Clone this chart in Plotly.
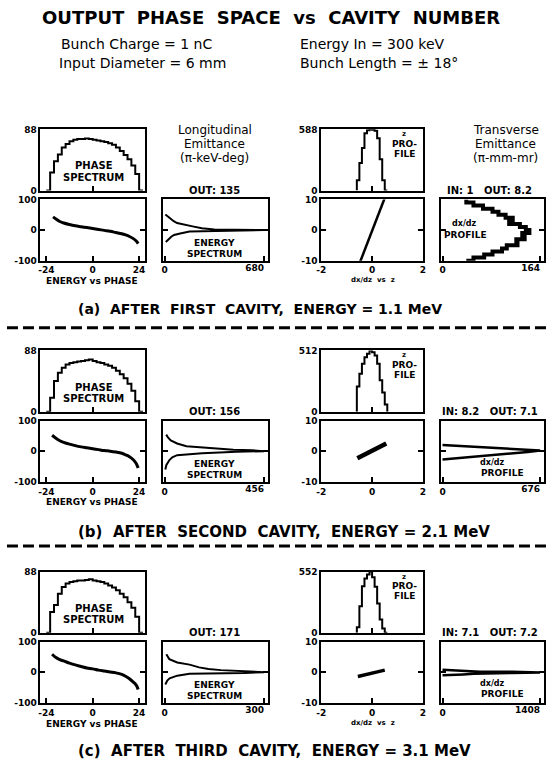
import plotly.graph_objects as go

W, H = 549, 774
FONT = "DejaVu Sans"

# ---------------- text ----------------
title_text = "OUTPUT  PHASE  SPACE  vs  CAVITY  NUMBER"
params_left = ["Bunch Charge = 1 nC", "Input Diameter = 6 mm"]
params_right = ["Energy In = 300 keV", "Bunch Length = ± 18°"]
section_labels = ["(a)  AFTER  FIRST  CAVITY,  ENERGY = 1.1 MeV",
                  "(b)  AFTER  SECOND  CAVITY,  ENERGY = 2.1 MeV",
                  "(c)  AFTER  THIRD  CAVITY,  ENERGY = 3.1 MeV"]
long_header = ["Longitudinal", "Emittance", "(π-keV-deg)"]
trans_header = ["Transverse", "Emittance", "(π-mm-mr)"]
long_out = ["135", "156", "171"]
trans_in = ["1", "8.2", "7.1"]
trans_out = ["8.2", "7.1", "7.2"]

# ---------------- phase spectrum (counts per 2 deg bin) ----------------
phase_edges = [-24, -22, -20, -18, -16, -14, -12, -10, -8, -6, -4, -2, 0,
               2, 4, 6, 8, 10, 12, 14, 16, 18, 20, 22, 24, 26]
phase_spec_a = [0, 26, 42, 52, 62, 67, 71, 73, 74, 74, 75, 74, 73, 72, 71, 70, 68, 66, 62, 57, 51, 45, 36, 24, 0]
phase_spec_b = [0, 20, 44, 56, 63, 68, 70, 71, 72, 73, 74, 75, 73, 71, 70, 68, 66, 63, 59, 54, 48, 40, 30, 15, 0]
phase_spec_c = [0, 30, 40, 56, 66, 71, 73, 74, 75, 75, 76, 77, 75, 74, 73, 71, 68, 65, 61, 56, 51, 44, 36, 23, 0]
phase_spec_max = [88, 88, 88]

# ---------------- energy vs phase ----------------
ep_phase_a = [-20.5, -19, -17, -15, -12, -9, -6, -3, 0, 3, 6, 9, 12, 15, 17, 19, 21, 22.5, 23.5]
ep_energy_a = [43, 36, 28, 23, 18, 14, 11, 8, 5, 2, -1, -4, -8, -12, -16, -21, -28, -36, -44]
ep_phase_b = [-21, -19, -17, -15, -12, -9, -6, -3, 0, 3, 6, 9, 12, 15, 17, 19, 21, 22.5, 23.5]
ep_energy_b = [52, 42, 34, 29, 23, 18, 14, 11, 8, 5, 2, 0, -3, -7, -12, -18, -28, -40, -55]
ep_phase_c = [-21, -19, -17, -15, -12, -9, -6, -3, 0, 3, 6, 9, 12, 15, 17, 19, 21, 22.5, 23.5]
ep_energy_c = [59, 48, 41, 37, 30, 24, 19, 14, 11, 7, 4, 1, -2, -7, -13, -21, -32, -42, -56]

# ---------------- energy spectrum (energy keV, counts) ----------------
es_energy_a = [51, 43, 35, 29, 23, 18, 12, 6, 2, 0, -2, -5, -11, -16, -22, -28, -39]
es_count_a = [5, 25, 42, 62, 85, 127, 191, 254, 339, 680, 350, 170, 106, 64, 45, 32, 8]
es_energy_b = [54, 45, 35, 25, 16, 12, 9, 5, 3, 0, -2, -4, -7, -13, -20, -29, -45, -60]
es_count_b = [7, 15, 28, 57, 100, 172, 243, 315, 400, 456, 330, 250, 172, 57, 35, 22, 8, 3]
es_energy_c = [59, 50, 43, 32, 25, 16, 11, 7, 3, 0, -2, -3, -5, -11, -20, -27, -40]
es_count_c = [5, 9, 14, 38, 75, 104, 132, 170, 240, 300, 240, 170, 75, 38, 15, 8, 2]
es_max = [680, 456, 300]

# ---------------- z profile ----------------
z_edges = [-0.6, -0.5, -0.4, -0.3, -0.2, -0.1, 0.0, 0.1, 0.2, 0.3, 0.4, 0.5, 0.6]
zprof_a = [100, 266, 408, 551, 580, 588, 585, 575, 503, 300, 100, 0]
zprof_b = [210, 318, 401, 456, 485, 512, 498, 470, 401, 263, 160, 60]
zprof_c = [50, 240, 420, 490, 525, 552, 500, 415, 265, 120, 38, 0]
zprof_max = [588, 512, 552]

# ---------------- dx/dz vs z ----------------
xz_z_a = [-0.48, -0.36, -0.22, -0.08, 0.06, 0.2, 0.34, 0.5]
xz_dxdz_a = [-10.6, -8.0, -5.0, -2.0, 1.0, 4.0, 7.0, 10.5]
xz_z_b = [-0.58, -0.4, -0.2, 0.0, 0.2, 0.4, 0.56]
xz_dxdz_b = [-2.3, -1.5, -0.7, 0.1, 0.9, 1.7, 2.5]
xz_z_c = [-0.56, -0.3, 0.0, 0.25, 0.5]
xz_dxdz_c = [-1.4, -0.8, -0.3, 0.2, 0.7]

# ---------------- dx/dz profile (dx/dz mr, counts) ----------------
dp_dxdz_a = [10, 9, 8, 7, 6, 5, 4, 3, 2, 1, 0, -1, -2, -3, -4, -5, -6, -7, -8, -9, -10]
dp_count_a = [40, 52, 68, 84, 94, 106, 118, 112, 130, 140, 146, 134, 138, 124, 126, 108, 100, 84, 70, 52, 40]
dp_dxdz_b = [2.0, 1.8, 1.5, 1.2, 0.9, 0.6, 0.2, -0.3, -0.8, -1.3, -1.8, -2.3, -2.7]
dp_count_b = [0, 80, 200, 330, 460, 580, 676, 590, 470, 340, 210, 90, 0]
dp_dxdz_c = [0.8, 0.6, 0.45, 0.3, 0.2, 0.15, 0.05, -0.1, -0.2, -0.3, -0.5, -0.7, -0.85, -1.0]
dp_count_c = [0, 150, 300, 450, 540, 1000, 1408, 1408, 1000, 540, 450, 300, 150, 0]
dp_max = [164, 676, 1408]

sections = [
    dict(ps=phase_spec_a, epx=ep_phase_a, epy=ep_energy_a, esy=es_energy_a, esx=es_count_a,
         zp=zprof_a, xzx=xz_z_a, xzy=xz_dxdz_a, dpy=dp_dxdz_a, dpx=dp_count_a),
    dict(ps=phase_spec_b, epx=ep_phase_b, epy=ep_energy_b, esy=es_energy_b, esx=es_count_b,
         zp=zprof_b, xzx=xz_z_b, xzy=xz_dxdz_b, dpy=dp_dxdz_b, dpx=dp_count_b),
    dict(ps=phase_spec_c, epx=ep_phase_c, epy=ep_energy_c, esy=es_energy_c, esx=es_count_c,
         zp=zprof_c, xzx=xz_z_c, xzy=xz_dxdz_c, dpy=dp_dxdz_c, dpx=dp_count_c),
]

# ---------------- helpers ----------------
def px(x):
    return x / W


def py(y):
    return 1 - y / H


def step_xy(edges, vals):
    xs = [edges[0]] + list(edges[:-1]) + [edges[-1]]
    ys = [0] + list(vals) + [0]
    return xs, ys


fig = go.Figure()
layout_axes = {}
counter = [0]

TICKFONT = dict(family=FONT, size=9, color="black", weight="bold")
BASE = dict(showline=True, linecolor="black", linewidth=2, showgrid=False,
            zeroline=False, ticks="inside", ticklen=5, tickwidth=2,
            tickcolor="black", tickfont=TICKFONT, fixedrange=True)


def add_axes(x0, x1, y0, y1, xcfg, ycfg, xmirror=True):
    counter[0] += 1
    k = counter[0]
    s = "" if k == 1 else str(k)
    xa = dict(BASE, domain=[px(x0), px(x1)], anchor="y" + s, mirror=xmirror, tickmode="array")
    xa.update(xcfg)
    ya = dict(BASE, domain=[py(y1), py(y0)], anchor="x" + s, mirror="ticks", tickmode="array")
    ya.update(ycfg)
    layout_axes["xaxis" + s] = xa
    layout_axes["yaxis" + s] = ya
    return "x" + s, "y" + s


overlay_axes = []


def add_max_label(xa, ya, rng, vmax):
    # a second x axis over the count axis that carries only the maximum label,
    # right-aligned at its tick like in the original figure
    overlay_axes.append((xa, ya, rng, vmax))


ann = []


def text(x, y, t, size=10, bold=True, xanchor="center"):
    ann.append(dict(x=px(x), y=py(y), xref="paper", yref="paper", text=t,
                    showarrow=False, xanchor=xanchor, yanchor="middle",
                    font=dict(family=FONT, size=size, color="black",
                              weight="bold" if bold else "normal")))


label_y = [308, 534, 756]
label_size = [14, 15, 15]

for i, sec in enumerate(sections):
    dy = 224 * i
    top0, top1 = 126 + dy, 188 + dy
    bot0, bot1 = 197 + dy, 259 + dy

    # phase spectrum
    xa, ya = add_axes(36, 142, top0, top1,
                      dict(range=[-27, 27], tickvals=[0], showticklabels=False),
                      dict(range=[0, phase_spec_max[i]], tickvals=[0, phase_spec_max[i]],
                           ticktext=["0", str(phase_spec_max[i])]))
    sx, sy = step_xy(phase_edges, sec["ps"])
    fig.add_trace(go.Scatter(x=sx, y=sy, mode="lines", line=dict(color="black", width=2, shape="hv"),
                             xaxis=xa, yaxis=ya))

    # energy vs phase
    xa, ya = add_axes(36, 142, bot0, bot1,
                      dict(range=[-27, 27], tickvals=[-24, 0, 24], ticktext=["-24", "0", "24"]),
                      dict(range=[-100, 100], tickvals=[-100, 0, 100], ticktext=["-100", "0", "100"]))
    fig.add_trace(go.Scatter(x=sec["epx"], y=sec["epy"], mode="lines",
                             line=dict(color="black", width=3, shape="spline"),
                             xaxis=xa, yaxis=ya))

    # energy spectrum
    M = es_max[i]
    rng = [-0.02 * M, 1.04 * M]
    xa, ya = add_axes(160, 267, bot0, bot1,
                      dict(range=rng, tickvals=[0, M], ticktext=["0", ""]),
                      dict(range=[-100, 100], tickvals=[0], showticklabels=False))
    fig.add_trace(go.Scatter(x=sec["esx"], y=sec["esy"], mode="lines",
                             line=dict(color="black", width=2),
                             xaxis=xa, yaxis=ya))
    add_max_label(xa, ya, rng, M)

    # z profile
    Z = zprof_max[i]
    xa, ya = add_axes(321, 424, top0, top1,
                      dict(range=[-2, 2], tickvals=[0], showticklabels=False),
                      dict(range=[0, Z], tickvals=[0, Z], ticktext=["0", str(Z)]))
    sx, sy = step_xy(z_edges, sec["zp"])
    fig.add_trace(go.Scatter(x=sx, y=sy, mode="lines", line=dict(color="black", width=2, shape="hv"),
                             xaxis=xa, yaxis=ya))

    # dx/dz vs z
    xa, ya = add_axes(321, 424, bot0, bot1,
                      dict(range=[-2, 2], tickvals=[-2, 0, 2], ticktext=["-2", "0", "2"]),
                      dict(range=[-10, 10], tickvals=[-10, 0, 10], ticktext=["-10", "0", "10"]))
    fig.add_trace(go.Scatter(x=sec["xzx"], y=sec["xzy"], mode="lines",
                             line=dict(color="black", width=[2.5, 4.5, 3.5][i]),
                             xaxis=xa, yaxis=ya))

    # dx/dz profile
    D = dp_max[i]
    rng = [-0.02 * D, 1.04 * D]
    xa, ya = add_axes(442, 547, bot0, bot1,
                      dict(range=rng, tickvals=[0, D], ticktext=["0", ""]),
                      dict(range=[-10, 10], tickvals=[0], showticklabels=False))
    fig.add_trace(go.Scatter(x=sec["dpx"], y=sec["dpy"], mode="lines",
                             line=dict(color="black", width=[4, 2.5, 2.5][i],
                                       shape=["vh", "linear", "linear"][i]),
                             xaxis=xa, yaxis=ya))
    add_max_label(xa, ya, rng, D)

    # in-plot labels
    text(90, top0 + 37, "PHASE", 10)
    text(90, top0 + 49, "SPECTRUM", 10)
    text(213, bot0 + 44, "ENERGY", 9)
    text(213, bot0 + 55, "SPECTRUM", 9)
    text(405, top0 + 5, "z", 7)
    text(405, top0 + 15, "PRO-", 9)
    text(405, top0 + 25, "FILE", 9)
    if i == 0:
        text(466, bot0 + 24, "dx/dz", 8)
        text(467, bot0 + 36, "PROFILE", 9)
    else:
        text(495, bot0 + 42, "dx/dz", 8)
        text(505, bot0 + 53, "PROFILE", 9)
    text(213, top1, "OUT: " + long_out[i], 10)
    text(492, top1, "IN: " + trans_in[i] + "   OUT: " + trans_out[i], 10)
    text(88, bot1 + 21, "ENERGY vs PHASE", 9)
    if i != 1:
        text(373, bot1 + 20, "dx/dz  vs  z", 7)
    text(72, label_y[i], section_labels[i], label_size[i], xanchor="left")

# overlay axes carrying the maximum-count labels
n = counter[0]
for (xa, ya, rng, vmax) in overlay_axes:
    n += 1
    name = "xaxis" + str(n)
    layout_axes[name] = dict(overlaying=xa, anchor=ya, side="bottom", range=rng,
                             tickmode="array", tickvals=[vmax], ticktext=[str(vmax)],
                             ticks="", showline=False, showgrid=False, zeroline=False,
                             ticklabelposition="outside left", tickfont=TICKFONT,
                             fixedrange=True)
    fig.add_trace(go.Scatter(x=[None], y=[None], mode="lines", xaxis="x" + str(n), yaxis=ya,
                             hoverinfo="skip"))

# headers
for j, t in enumerate(long_header):
    text(213, 127 + 14 * j, t, 12, bold=False)
for j, t in enumerate(trans_header):
    text(508, 127 + 14 * j, t, 12, bold=False)

text(270, 13, title_text, 18)
text(55, 40, params_left[0], 14, bold=False, xanchor="left")
text(53, 59, params_left[1], 14, bold=False, xanchor="left")
text(297, 40, params_right[0], 14, bold=False, xanchor="left")
text(297, 59, params_right[1], 14, bold=False, xanchor="left")

shapes = []
for yy in [327, 548]:
    shapes.append(dict(type="line", xref="paper", yref="paper", x0=px(2), x1=px(549),
                       y0=py(yy), y1=py(yy), line=dict(color="black", width=3, dash="11px,5px")))

fig.update_layout(width=W, height=H, margin=dict(l=0, r=0, t=0, b=0),
                  paper_bgcolor="white", plot_bgcolor="white", showlegend=False,
                  annotations=ann, shapes=shapes, **layout_axes)

fig.write_html("out.html", config={"displayModeBar": False, "staticPlot": True},
               post_script="document.body.style.margin='0';")
